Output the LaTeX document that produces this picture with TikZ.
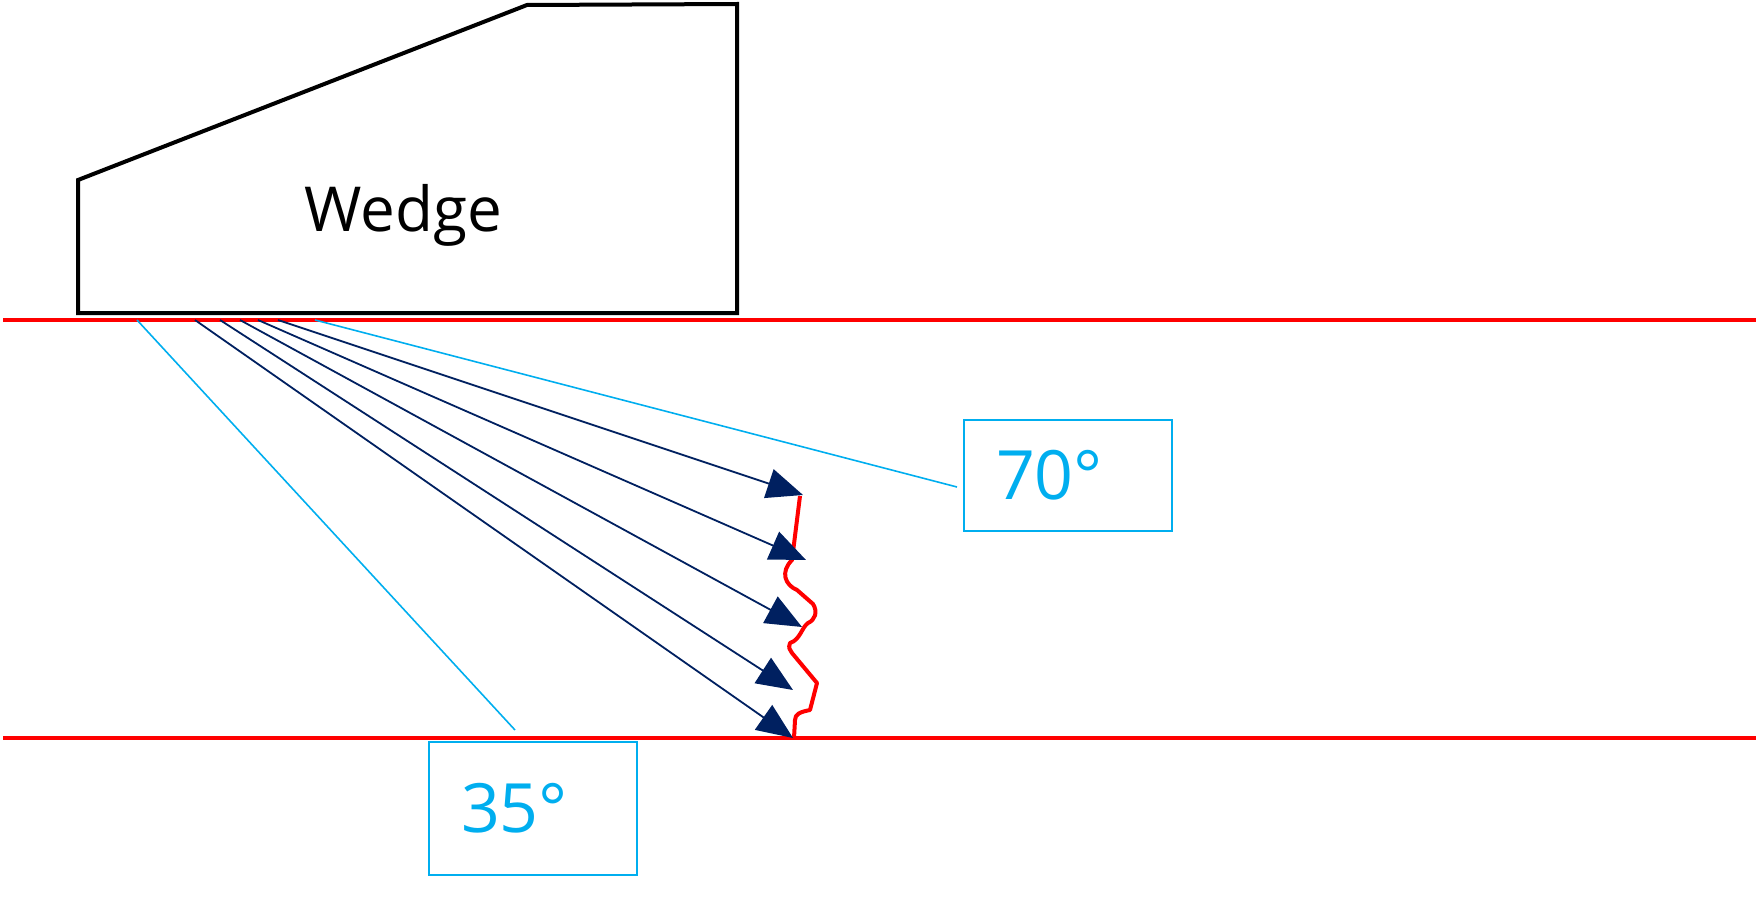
\documentclass[tikz,border=0pt]{standalone}
\usepackage{fontspec}
\setmainfont{Open Sans}
\usetikzlibrary{arrows.meta}
\definecolor{cy}{RGB}{0,174,239}
\definecolor{nv}{RGB}{0,32,96}
\begin{document}
\begin{tikzpicture}[x=1pt,y=-1pt,
  ray/.style={nv,line width=1.8pt,-{Triangle[length=36pt,width=30pt]}},
  lead/.style={cy,line width=1.6pt},
  box/.style={draw=cy,line width=2pt,text=cy,font=\fontsize{68}{70}\selectfont,minimum width=208pt,anchor=north west,inner sep=0pt,align=left,text width=188pt},
  redline/.style={red,line width=4.2pt}]
\useasboundingbox (0,0) rectangle (1760,907);
\draw[line width=4pt,line join=miter] (78,313) -- (78,180) -- (527,5) -- (737,4) -- (737,313) -- cycle;
\node (w) at (403,215) {\fontsize{62}{64}\selectfont Wedge};
\coordinate (L1a) at (3,320); \coordinate (L1b) at (1756,320);
\coordinate (L2a) at (3,738); \coordinate (L2b) at (1756,738);
\draw[redline] (L1a) -- (L1b);
\draw[redline] (L2a) -- (L2b);
\draw[redline,line width=4pt,line join=round] (800,496) -- (792,560) .. controls (780,572) and (785,585) .. (797,590) -- (813,604) .. controls (818,612) and (815,620) .. (808,623) .. controls (802,627) and (800,640) .. (790,643) .. controls (788,648) and (790,650) .. (792,653) -- (817,683) -- (810,710) .. controls (800,712) and (795,714) .. (795,720) -- (794,738);
\coordinate (s1) at (195,320); \coordinate (e1) at (793,738);
\coordinate (s2) at (220,320); \coordinate (e2) at (793,690);
\coordinate (s3) at (240,320); \coordinate (e3) at (802,627);
\coordinate (s4) at (258,320); \coordinate (e4) at (806,560);
\coordinate (s5) at (278,320); \coordinate (e5) at (803,495);
\foreach \i in {1,...,5} \draw[ray] (s\i) -- (e\i);
\node[box,minimum height=111pt] (b70) at (963,419) {\hspace*{22pt}70°};
\node[box,minimum height=133pt] (b35) at (428,741) {\hspace*{22pt}35°};
\coordinate (c70) at (315,320); \coordinate (c35) at (137,320);
\coordinate (t70) at (957,487); \coordinate (t35) at (515,730);
\draw[lead] (c70) -- (t70);
\draw[lead] (c35) -- (t35);
\end{tikzpicture}
\end{document}
